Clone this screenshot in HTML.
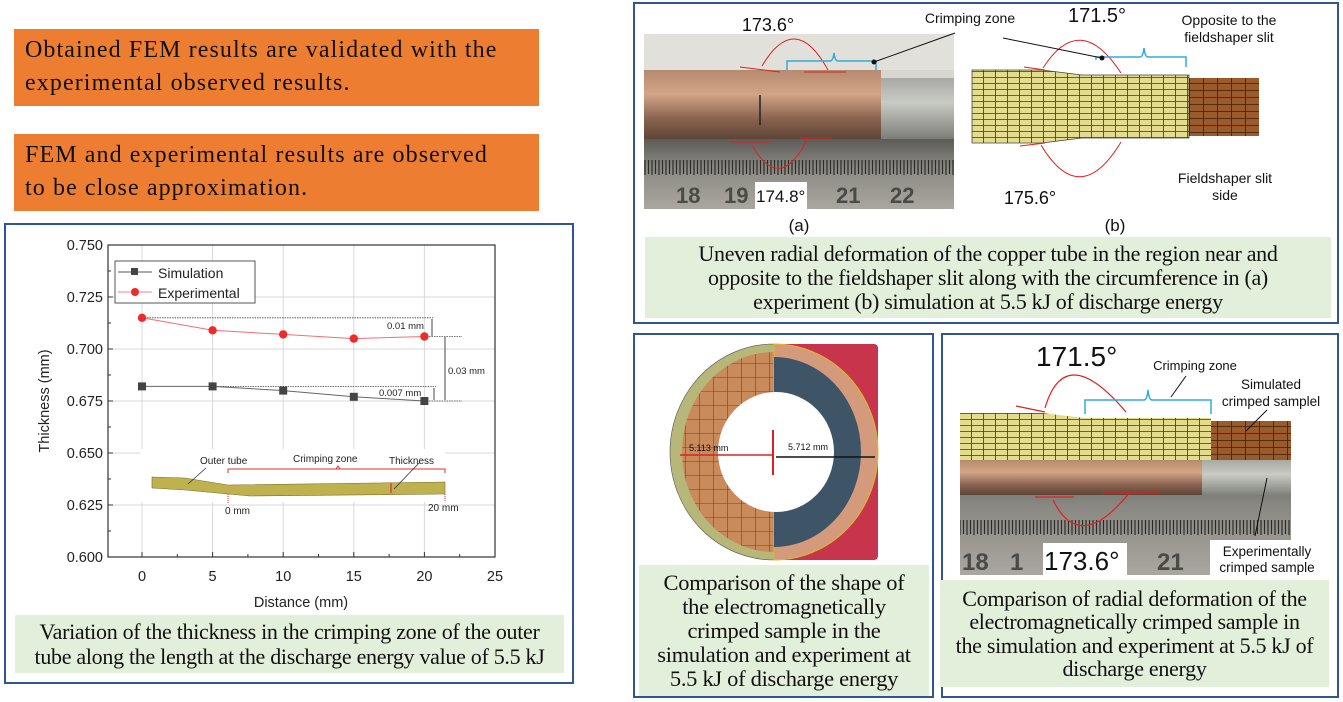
<!DOCTYPE html>
<html><head><meta charset="utf-8"><style>
body{margin:0;width:1343px;height:702px;background:#fff;position:relative;overflow:hidden;font-family:"Liberation Sans",sans-serif}
.ob{position:absolute;left:14px;width:525px;height:77px;background:#ED7D31;font-family:"Liberation Serif",serif;font-size:24px;letter-spacing:1.1px;line-height:33px;color:#111;padding:5px 0 0 11px;box-sizing:border-box;white-space:nowrap}
.pan{position:absolute;border:2px solid #2F5597;box-sizing:border-box}
.cap{position:absolute;background:#E2EFDA;font-family:"Liberation Serif",serif;color:#111;text-align:center;display:flex;align-items:center;justify-content:center;box-sizing:border-box;white-space:nowrap;letter-spacing:-0.3px}
svg{position:absolute;left:0;top:0}
</style></head><body>
<div class="ob" style="top:29px">Obtained FEM results are validated with the<br>experimental observed results.</div>
<div class="ob" style="top:134px">FEM and experimental results are observed<br>to be close approximation.</div>

<div class="pan" style="left:4px;top:223px;width:570px;height:461px"></div>
<div class="pan" style="left:633px;top:2px;width:706px;height:322px"></div>
<div class="pan" style="left:633px;top:333px;width:301px;height:365px"></div>
<div class="pan" style="left:941px;top:333px;width:398px;height:365px"></div>

<div class="cap" style="left:15px;top:615px;width:549px;height:58px;font-size:22px;line-height:25px">Variation of the thickness in the crimping zone of the outer<br>tube along the length at the discharge energy value of 5.5 kJ</div>
<div class="cap" style="left:645px;top:237px;width:686px;height:81px;font-size:22px;line-height:24px">Uneven radial deformation of the copper tube in the region near and<br>opposite to the fieldshaper slit along with the circumference in (a)<br>experiment (b) simulation at 5.5 kJ of discharge energy</div>
<div class="cap" style="left:639px;top:565px;width:290px;height:131px;font-size:22.5px;line-height:24px">Comparison of the shape of<br>the electromagnetically<br>crimped sample in the<br>simulation and experiment at<br>5.5 kJ of discharge energy</div>
<div class="cap" style="left:940px;top:580px;width:389px;height:107px;font-size:22px;line-height:23.5px">Comparison of radial deformation of the<br>electromagnetically crimped sample in<br>the simulation and experiment at 5.5 kJ of<br>discharge energy</div>

<svg width="1343" height="702" viewBox="0 0 1343 702" font-family="Liberation Sans, sans-serif">
<defs>
<linearGradient id="cu" x1="0" y1="0" x2="0" y2="1"><stop offset="0" stop-color="#b58a6e"/><stop offset=".35" stop-color="#d3a587"/><stop offset=".7" stop-color="#8a6450"/><stop offset="1" stop-color="#5e4538"/></linearGradient>
<linearGradient id="al" x1="0" y1="0" x2="0" y2="1"><stop offset="0" stop-color="#a8a9a4"/><stop offset=".4" stop-color="#c9cac4"/><stop offset="1" stop-color="#7d7e79"/></linearGradient>
<linearGradient id="rl" x1="0" y1="0" x2="0" y2="1"><stop offset="0" stop-color="#5c5b57"/><stop offset=".4" stop-color="#8a8882"/><stop offset="1" stop-color="#a9a79f"/></linearGradient>
<pattern id="mesh" width="12" height="6" patternUnits="userSpaceOnUse"><rect width="12" height="6" fill="#e3dc8e"/><path d="M0 5.5H12M11.5 0V6" stroke="#3a3a20" stroke-width=".8"/></pattern>
<pattern id="bm" width="14" height="7" patternUnits="userSpaceOnUse"><rect width="14" height="7" fill="#9b5a2a"/><path d="M0 6.5H14M13.5 0V7" stroke="#3b1e0c" stroke-width=".8"/></pattern>
<pattern id="rt" width="7" height="40" patternUnits="userSpaceOnUse"><rect width="7" height="40" fill="none"/><path d="M1 0V22M4.5 0V14" stroke="#2a2a28" stroke-width="1.2"/></pattern>
<pattern id="rg" width="14" height="14" patternUnits="userSpaceOnUse"><rect width="14" height="14" fill="#c98a5c"/><path d="M0 13.5H14M13.5 0V14" stroke="#6a4a30" stroke-width=".6"/></pattern>
</defs>

<g stroke="#d9d9d9" stroke-width="1">
<path d="M142 245V557M212.6 245V557M283.2 245V557M353.8 245V557M424.4 245V557"/>
<path d="M108 297H495M108 349H495M108 401H495M108 453H495M108 505H495"/>
</g>
<rect x="108" y="245" width="387" height="312" fill="none" stroke="#333" stroke-width="1.2"/>
<g stroke="#333" stroke-width="1">
<path d="M142 557v-5M177.3 557v-3M212.6 557v-5M247.9 557v-3M283.2 557v-5M318.5 557v-3M353.8 557v-5M389.1 557v-3M424.4 557v-5M459.7 557v-3"/>
<path d="M108 271h3M108 323h3M108 375h3M108 427h3M108 479h3M108 531h3M108 297h5M108 349h5M108 401h5M108 453h5M108 505h5"/>
</g>
<g font-size="14.5" fill="#222" text-anchor="end">
<text x="103" y="250">0.750</text><text x="103" y="302">0.725</text><text x="103" y="354">0.700</text><text x="103" y="406">0.675</text><text x="103" y="458">0.650</text><text x="103" y="510">0.625</text><text x="103" y="562">0.600</text>
</g>
<g font-size="14.5" fill="#222" text-anchor="middle">
<text x="142" y="581">0</text><text x="212.6" y="581">5</text><text x="283.2" y="581">10</text><text x="353.8" y="581">15</text><text x="424.4" y="581">20</text><text x="495" y="581">25</text>
<text x="301" y="607">Distance (mm)</text>
</g>
<text transform="translate(49 401) rotate(-90)" font-size="14.5" fill="#222" text-anchor="middle">Thickness (mm)</text>
<rect x="115" y="261" width="140" height="42" fill="#fff" stroke="#555"/>
<path d="M118 272H152" stroke="#555"/><rect x="131" y="268" width="7" height="7" fill="#444"/>
<path d="M118 292H152" stroke="#f08080"/><circle cx="135" cy="292" r="4" fill="#ee2a2a"/>
<text x="158" y="278" font-size="14" fill="#222">Simulation</text>
<text x="158" y="298" font-size="14" fill="#222">Experimental</text>
<path d="M142 317.8H433M424 336.5H462M212.6 386.4H436M424 401H462" stroke="#444" stroke-dasharray="1.5 1" stroke-width=".8"/>
<polyline points="142,317.8 212.6,330.3 283.2,334.4 353.8,338.6 424.4,336.5" fill="none" stroke="#f07070" stroke-width="1"/>
<polyline points="142,386.4 212.6,386.4 283.2,390.6 353.8,396.8 424.4,401" fill="none" stroke="#666" stroke-width="1"/>
<g fill="#ee2a2a"><circle cx="142" cy="317.8" r="4.2"/><circle cx="212.6" cy="330.3" r="4.2"/><circle cx="283.2" cy="334.4" r="4.2"/><circle cx="353.8" cy="338.6" r="4.2"/><circle cx="424.4" cy="336.5" r="4.2"/></g>
<g fill="#444"><rect x="138" y="382.4" width="8" height="8"/><rect x="208.6" y="382.4" width="8" height="8"/><rect x="279.2" y="386.6" width="8" height="8"/><rect x="349.8" y="392.8" width="8" height="8"/><rect x="420.4" y="397" width="8" height="8"/></g>
<g stroke="#333" stroke-width=".9" fill="none"><path d="M432 319V336M445 337V400M434 388V400"/></g>
<g font-size="9.5" fill="#222"><text x="387" y="329">0.01 mm</text><text x="448" y="374">0.03 mm</text><text x="379" y="396">0.007 mm</text></g>
<rect x="140" y="449" width="305" height="53" fill="#fff"/>
<path d="M152 477 L185 478 L228 485 L445 482 L445 494 L250 496 L228 494 L185 490 L152 488Z" fill="#bfb14e" stroke="#7a6e2a" stroke-width=".6"/>
<path d="M228 473 V469 H445 V473 M336 469 l2 -3 l2 3" fill="none" stroke="#e03030" stroke-width="1"/>
<path d="M228 494V504M445 494V502" stroke="#e03030" stroke-dasharray="1 1"/>
<path d="M391 483V493" stroke="#e03030" stroke-width="1.2"/>
<path d="M188 484L206 468M394 489L420 462" stroke="#333" stroke-width=".8"/>
<g font-size="10" fill="#222"><text x="200" y="464">Outer tube</text><text x="293" y="462">Crimping zone</text><text x="389" y="464">Thickness</text><text x="225" y="514">0 mm</text><text x="428" y="511">20 mm</text></g>

<rect x="644" y="34" width="310" height="175" fill="#d8d6d0"/>
<rect x="644" y="34" width="310" height="36" fill="#e2e0da"/>
<rect x="880" y="78" width="74" height="61" fill="url(#al)"/>
<rect x="644" y="70" width="237" height="69" fill="url(#cu)"/>
<path d="M760 95V125" stroke="#222" stroke-width="1.5"/>
<rect x="644" y="139" width="310" height="70" fill="url(#rl)"/>
<rect x="644" y="147" width="310" height="28" fill="url(#rt)"/>
<g font-size="22" fill="#4a4a46" font-weight="bold"><text x="676" y="203">18</text><text x="724" y="203">19</text><text x="836" y="203">21</text><text x="890" y="203">22</text></g>
<rect x="755" y="182" width="52" height="27" fill="#fff"/>
<text x="756" y="202" font-size="17" fill="#111">174.8°</text>
<text x="768" y="31" font-size="18" fill="#111" text-anchor="middle">173.6°</text>
<text x="970" y="23" font-size="14" fill="#111" text-anchor="middle">Crimping zone</text>
<g fill="none" stroke="#e02020" stroke-width="1">
<path d="M762 66 Q 795 10 828 70"/>
<path d="M740 67L780 72M804 72H846M730 142H771M800 138H832"/>
<path d="M752 145 Q 780 195 808 138"/></g>
<path d="M787 70 V61 H830 Q833 61 834 53 Q835 61 838 61 H876 V70" fill="none" stroke="#33aadd" stroke-width="1.5"/>
<path d="M874 62L955 33" stroke="#111"/><circle cx="874" cy="62" r="2.5" fill="#111"/>
<text x="799" y="231" font-size="17" fill="#111" text-anchor="middle">(a)</text>

<path d="M972 70 H1042 L1082 75 H1189 V138 H1082 L1042 143 H972Z" fill="url(#mesh)" stroke="#444" stroke-width=".8"/>
<rect x="1189" y="78" width="70" height="58" fill="url(#bm)"/>
<text x="1097" y="22" font-size="20" fill="#111" text-anchor="middle">171.5°</text>
<text x="1229" y="25" font-size="14" fill="#111" text-anchor="middle">Opposite to the</text>
<text x="1229" y="42" font-size="14" fill="#111" text-anchor="middle">fieldshaper slit</text>
<text x="1225" y="183" font-size="14" fill="#111" text-anchor="middle">Fieldshaper slit</text>
<text x="1225" y="200" font-size="14" fill="#111" text-anchor="middle">side</text>
<text x="1030" y="204" font-size="18" fill="#111" text-anchor="middle">175.6°</text>
<g fill="none" stroke="#e02020" stroke-width="1"><path d="M1043 68 Q 1080 10 1121 73"/><path d="M1041 145 Q 1080 210 1121 142"/><path d="M1024 67L1045 70M1020 146L1045 143"/></g>
<path d="M1096 60 V57 H1140 Q1143 57 1144 48 Q1145 57 1148 57 H1186 V67" fill="none" stroke="#33aadd" stroke-width="1.5"/>
<path d="M1003 38L1102 58" stroke="#111"/><circle cx="1102" cy="58" r="2.5" fill="#111"/>
<text x="1115" y="231" font-size="17" fill="#111" text-anchor="middle">(b)</text>

<rect x="774" y="344" width="104" height="216" rx="4" fill="#c8344c"/>
<path d="M774 344 A104 108 0 0 0 774 560Z" fill="#b8b77a" stroke="#555" stroke-width=".6"/>
<path d="M774 352 A92 100 0 0 0 774 552Z" fill="url(#rg)"/>
<path d="M774 344 A104 108 0 0 1 774 560Z" fill="#d49a7c" stroke="#d8c020" stroke-width="1"/>
<path d="M774 357 A87 95 0 0 1 774 547Z" fill="#3d5566"/>
<ellipse cx="776" cy="452" rx="58" ry="60" fill="#fff"/>
<path d="M680 455H773" stroke="#e02020" stroke-width="1.5"/>
<path d="M776 457H875" stroke="#111" stroke-width="1.5"/>
<path d="M773 430V475" stroke="#e02020" stroke-width="2"/>
<g font-size="9" fill="#111"><text x="689" y="451">5.113 mm</text><text x="788" y="450">5.712 mm</text></g>

<rect x="960" y="460" width="331" height="115" fill="url(#rl)"/>
<rect x="960" y="460" width="331" height="36" fill="url(#al)"/>
<rect x="960" y="460" width="242" height="35" fill="url(#cu)"/>
<rect x="960" y="505" width="331" height="30" fill="url(#rt)"/>
<g font-size="24" fill="#4a4a46" font-weight="bold"><text x="962" y="570">18</text><text x="1010" y="570">1</text><text x="1157" y="570">21</text></g>
<rect x="1043" y="543" width="84" height="32" fill="#fff"/>
<text x="1044" y="570" font-size="26" fill="#111">173.6°</text>
<rect x="1210" y="540" width="112" height="36" fill="#fff"/>
<path d="M960 413 H1042 L1085 418 H1211 V460 H960Z" fill="url(#mesh)"/>
<rect x="1211" y="421" width="80" height="39" fill="url(#bm)"/>
<text x="1036" y="366" font-size="28" fill="#111">171.5°</text>
<text x="1195" y="370" font-size="13" fill="#111" text-anchor="middle">Crimping zone</text>
<text x="1271" y="389" font-size="13.5" fill="#111" text-anchor="middle">Simulated</text>
<text x="1271" y="406" font-size="13.5" fill="#111" text-anchor="middle">crimped samplel</text>
<text x="1267" y="556" font-size="13.5" fill="#111" text-anchor="middle">Experimentally</text>
<text x="1267" y="572" font-size="13.5" fill="#111" text-anchor="middle">crimped sample</text>
<g fill="none" stroke="#e02020" stroke-width="1.2"><path d="M1045 408 Q 1065 340 1126 412"/><path d="M1016 406L1045 412"/><path d="M1035 497 H1074 M1103 493 H1160"/><path d="M1053 500 Q 1080 555 1130 492"/></g>
<path d="M1085 414 V400 H1144 Q1147 400 1148 390 Q1149 400 1152 400 H1211 V414" fill="none" stroke="#33aadd" stroke-width="1.5"/>
<path d="M1171 397L1186 376M1246 431L1267 410M1255 536L1267 478" stroke="#111"/>
</svg>
</body></html>
